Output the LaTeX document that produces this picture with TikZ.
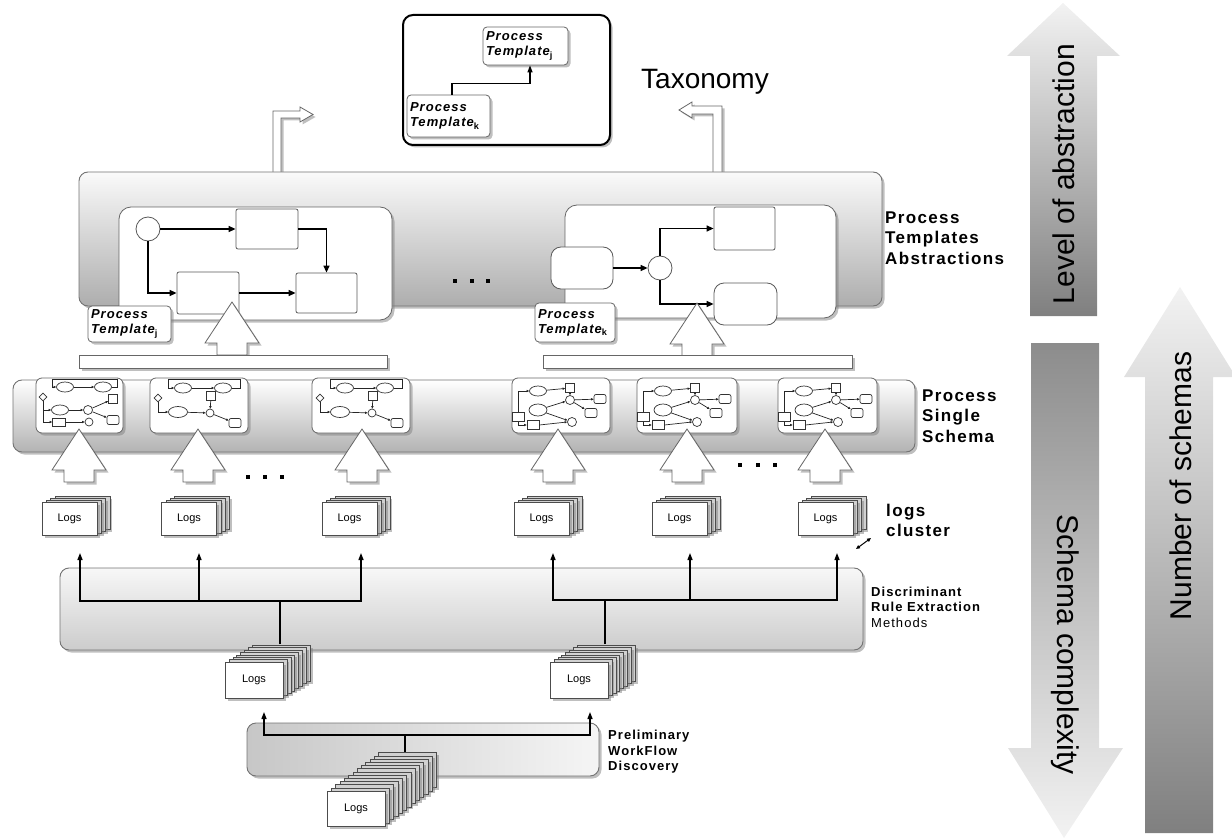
\documentclass[tikz,border=0pt]{standalone}
\usepackage{fontspec}
\setmainfont{Liberation Sans}
\newfontfamily\spacedsans[LetterSpace=8]{Liberation Sans}
\usetikzlibrary{shapes.geometric,shadows,arrows.meta}

% a stack of log sheets: name, x, y, copies behind, dx, dy, size options
\newcommand{\logstack}[7]{%
  \foreach \k in {#4,...,1}{%
    \node[logback,#7] (#1-\k) at ({#2+\k*#5},{#3-\k*#6}) {};}
  \node[logfront,#7] (#1) at (#2,#3) {Logs};}

% subscript index of a template label
\newcommand{\tplidx}[1]{\textsubscript{\upshape #1}}

% small process schema, first variant
\newcommand{\schemaA}[2]{%
  \begin{scope}[shift={#1},name prefix=#2]
    \node[mell] (e1) at (29,9) {};
    \node[mell] (e2) at (67,9) {};
    \node[mdia] (d) at (7,19) {};
    \node[mell] (e3) at (24,32) {};
    \node[mcir] (c1) at (52,32) {};
    \node[msq] (q) at (77,21) {};
    \node[mrr] (r) at (77,42) {};
    \node[mrc] (k) at (23,44) {};
    \node[mcir,minimum size=8pt] (c2) at (53,44) {};
    \draw[mlink] (e1) -- (e2);
    \draw[mlink] (e2.east) -- (81,9) -- (81,1.5) -- (16,1.5) -- (16,9) -- (e1.west);
    \draw[mlink] (d.south) |- (e3.west);
    \draw[mlink] (d.south) |- (k.west);
    \draw[mlink] (e3) -- (c1);
    \draw[mlink] (c1) -- (q);
    \draw[mlink] (c1) -- (r);
    \draw[mlink] (k) -- (c2);
  \end{scope}}

% small process schema, second variant
\newcommand{\schemaB}[2]{%
  \begin{scope}[shift={#1},name prefix=#2]
    \node[mell] (e1) at (33,10) {};
    \node[mell] (e2) at (73,10) {};
    \node[mdia] (d) at (8,20) {};
    \node[mell,minimum width=19pt,minimum height=11pt] (e3) at (28,34) {};
    \node[msq] (q) at (61,18) {};
    \node[mcir,minimum size=8pt] (c) at (60,35) {};
    \node[mrr] (r) at (85,45) {};
    \draw[mlink] (e1) -- (e2);
    \draw[mlink] (e2.east) -- (90,10) -- (90,1.5) -- (18,1.5) -- (18,10) -- (e1.west);
    \draw[mlink] (d.south) |- (e3.west);
    \draw[mlink] (e3) -- (c);
    \draw[mlink] (q) -- (c);
    \draw[mlink] (c) -- (r);
  \end{scope}}

% small process schema, third variant
\newcommand{\schemaC}[2]{%
  \begin{scope}[shift={#1},name prefix=#2]
    \node[mell] (e1) at (26,13) {};
    \node[msq] (q) at (58,10) {};
    \node[mcir] (c) at (58,22) {};
    \node[mrr] (r1) at (88,21) {};
    \node[mrr] (r2) at (79,35) {};
    \node[mell,minimum width=18pt,minimum height=12pt] (e2) at (26,32) {};
    \node[mrc,minimum width=12pt,minimum height=9pt] (k1) at (6,39) {};
    \node[mrc,minimum width=12pt,minimum height=9pt] (k2) at (21,47) {};
    \node[mcir] (cb) at (60,44) {};
    \draw[mlink] (k1.north) |- (e1.west);
    \draw[mlink] (e1) -- (q);
    \draw[mlink] (q) -- (c);
    \draw[mlink] (c) -- (r1);
    \draw[mlink] (e2) -- (c);
    \draw[mlink] (e2) -- (cb);
    \draw[mlink] (c) -- (r2);
    \draw[mlink] (k1.south) |- (k2.west);
    \draw[mlink] (k2.east) -- (cb.west);
  \end{scope}}

\begin{document}
\begin{tikzpicture}[x=1pt,y=-1pt,
  shd/.style={drop shadow={shadow xshift=2.5pt,shadow yshift=-2.5pt,opacity=0.5}},
  panel/.style={draw=black!55,line width=0.9pt,rounded corners=9pt,shd,inner sep=0pt},
  wbox/.style={draw=black!60,fill=white,line width=0.8pt,rounded corners=4pt,shd,inner sep=0pt},
  tplbox/.style={wbox,rounded corners=12pt},
  flowbox/.style={draw=black!65,fill=white,line width=0.8pt,rounded corners=2pt,inner sep=0pt},
  ptlabel/.style={wbox,align=left,inner sep=3pt,font=\spacedsans\fontsize{13}{15}\selectfont\bfseries\itshape},
  flowline/.style={draw=black,line width=1.3pt,-{Triangle[length=7pt,width=6pt]}},
  tree/.style={draw=black,line width=1.3pt},
  treearr/.style={tree,-{Triangle[length=7pt,width=5pt]}},
  hollow/.style={draw=black!60,fill=white,line width=0.8pt,shd,line join=miter},
  uparr/.pic={\path[hollow] (0,0) -- (27,41) -- (15,41) -- (15,53) -- (-15,53) -- (-15,41) -- (-27,41) -- cycle;},
  logback/.style={draw=black!70,fill=black!18,line width=0.5pt,inner sep=0pt,shd},
  logfront/.style={draw=black!70,fill=white,line width=0.6pt,inner sep=0pt,shd,font=\fontsize{11}{12}\selectfont},
  sidelab/.style={font=\fontsize{30}{34}\selectfont,inner sep=0pt},
  lab/.style={font=\spacedsans\fontsize{17}{20.5}\selectfont\bfseries,align=left,inner sep=0pt,anchor=west},
  smlab/.style={font=\spacedsans\fontsize{13}{15.5}\selectfont\bfseries,align=left,inner sep=0pt,anchor=west},
  mini/.style={draw=black!80,fill=white,line width=0.7pt,inner sep=0pt},
  mell/.style={mini,ellipse,minimum width=17pt,minimum height=10pt},
  msq/.style={mini,rectangle,minimum width=9pt,minimum height=9pt},
  mrr/.style={mini,rectangle,rounded corners=2pt,minimum width=12pt,minimum height=9pt},
  mrc/.style={mini,rectangle,minimum width=13pt,minimum height=8pt},
  mcir/.style={mini,circle,minimum size=9pt},
  mdia/.style={mini,diamond,minimum size=8pt},
  mlink/.style={draw=black!85,line width=0.7pt,-{Triangle[length=2.5pt,width=2.2pt]}},
]
\useasboundingbox (0,0) rectangle (1232,840);

% ---------- hollow elbow arrows towards the taxonomy ----------
\path[hollow] (273,176) -- (273,111) -- (300,111) -- (300,107) -- (313,114.5) -- (300,122) -- (300,118) -- (281,118) -- (281,176) -- cycle;
\path[hollow] (722,176) -- (722,106) -- (692,106) -- (692,102) -- (679,110) -- (692,118) -- (692,114) -- (713,114) -- (713,176) -- cycle;

% ---------- process templates abstractions ----------
\node[panel,top color=black!2,bottom color=black!32,minimum width=803pt,minimum height=134pt] (abs) at (480.5,239) {};
\node[tplbox,minimum width=273pt,minimum height=113pt] (tplL) at (255.5,263.5) {};
\node[tplbox,minimum width=271pt,minimum height=113pt] (tplR) at (700.5,261.5) {};

% left template
\node[flowbox,circle,minimum size=24pt] (lc) at (148,229) {};
\node[flowbox,minimum width=62pt,minimum height=40pt] (lb1) at (267,229) {};
\node[flowbox,minimum width=62pt,minimum height=42pt] (lb2) at (208,293) {};
\node[flowbox,minimum width=61pt,minimum height=40pt] (lb3) at (326.5,293) {};
\draw[flowline] (lc.east) -- (lb1.west);
\draw[flowline] (lb1.east) -| (lb3.north);
\draw[flowline] (lc.south) |- (lb2.west);
\draw[flowline] (lb2.east) -- (lb3.west);

% right template
\node[flowbox,rounded corners=10pt,minimum width=62pt,minimum height=42pt] (rr1) at (582,268) {};
\node[flowbox,circle,minimum size=24pt] (rc) at (660,268) {};
\node[flowbox,minimum width=61pt,minimum height=43pt] (rbt) at (744.5,228.5) {};
\node[flowbox,rounded corners=10pt,minimum width=63pt,minimum height=42pt] (rbb) at (745.5,304) {};
\draw[flowline] (rr1.east) -- (rc.west);
\draw[flowline] (rc.north) |- (rbt.west);
\draw[flowline] (rc.south) |- (rbb.west);

\fill (453,279) rectangle ++(4,4);
\fill (470,279) rectangle ++(4,4);
\fill (486,279) rectangle ++(4,4);

\node[ptlabel,text width=77pt,minimum height=36pt] (ptj) at (129.5,324) {Process\\Template\tplidx{j}};
\node[ptlabel,text width=74pt,minimum height=39pt] (ptk) at (575,322.5) {Process\\Template\tplidx{k}};

\pic at (232,302) {uparr};
\pic at (697,303) {uparr};
\node[wbox,rounded corners=0pt,minimum width=308pt,minimum height=13pt] (barL) at (233,361.5) {};
\node[wbox,rounded corners=0pt,minimum width=309pt,minimum height=13pt] (barR) at (697.5,361.5) {};

\node[lab] (lbl-abs) at (885,238) {Process\\Templates\\Abstractions};

% ---------- process single schema ----------
\node[panel,top color=white,bottom color=black!30,minimum width=902pt,minimum height=72pt] (single) at (464,416) {};
\node[wbox,rounded corners=6pt,minimum width=87pt,minimum height=55pt] (s1) at (79.5,405.5) {};
\node[wbox,rounded corners=6pt,minimum width=98pt,minimum height=55pt] (s2) at (199,405.5) {};
\node[wbox,rounded corners=6pt,minimum width=98pt,minimum height=55pt] (s3) at (361,405.5) {};
\node[wbox,rounded corners=6pt,minimum width=98pt,minimum height=55pt] (s4) at (561,405.5) {};
\node[wbox,rounded corners=6pt,minimum width=100pt,minimum height=55pt] (s5) at (687,405.5) {};
\node[wbox,rounded corners=6pt,minimum width=99pt,minimum height=55pt] (s6) at (827.5,405.5) {};
\schemaA{(36,378)}{sa-}
\schemaB{(150,378)}{sb-}
\schemaB{(312,378)}{sc-}
\schemaC{(512,378)}{sd-}
\schemaC{(637,378)}{se-}
\schemaC{(778,378)}{sf-}

\node[lab] (lbl-single) at (922,416) {Process\\Single\\Schema};

\foreach \ax in {79,198,362,558,687,825}{\pic at (\ax,429) {uparr};}

\fill (246,475) rectangle ++(4,4);
\fill (263,475) rectangle ++(4,4);
\fill (280,475) rectangle ++(4,4);
\fill (738,463) rectangle ++(4,4);
\fill (756,463) rectangle ++(4,4);
\fill (773,463) rectangle ++(4,4);

% ---------- logs clusters ----------
\logstack{ls1}{69.5}{518.5}{3}{4.3}{2}{minimum width=55pt,minimum height=33pt}
\logstack{ls2}{189}{518.5}{3}{4.3}{2}{minimum width=55pt,minimum height=33pt}
\logstack{ls3}{349.5}{518.5}{3}{4.3}{2}{minimum width=55pt,minimum height=33pt}
\logstack{ls4}{541.5}{518.5}{3}{4.3}{2}{minimum width=55pt,minimum height=33pt}
\logstack{ls5}{679.5}{518.5}{3}{4.3}{2}{minimum width=55pt,minimum height=33pt}
\logstack{ls6}{825.5}{518.5}{3}{4.3}{2}{minimum width=55pt,minimum height=33pt}

\node[lab] (lbl-cluster) at (886,520.5) {logs\\cluster};
\coordinate (lcA) at (856,549);
\coordinate (lcB) at (871,538);
\draw[line width=1pt,{Triangle[length=4pt,width=3.5pt]}-{Triangle[length=4pt,width=3.5pt]}] (lcA) -- (lcB);

% ---------- discriminant rule extraction ----------
\node[panel,top color=black!3,bottom color=black!20,minimum width=803pt,minimum height=82pt] (disc) at (461.5,609) {};
\node[smlab] (lbl-disc) at (871,607) {Discriminant\\Rule Extraction\\{\mdseries Methods}};

\logstack{mL}{254}{680}{7}{3.9}{2.4}{minimum width=58pt,minimum height=36pt}
\logstack{mR}{579}{680}{7}{3.9}{2.4}{minimum width=58pt,minimum height=36pt}

\coordinate (sL) at (280,644);
\coordinate (jL) at (280,601);
\coordinate (tL1) at (80,553);
\coordinate (tL2) at (199,553);
\coordinate (tL3) at (361,553);
\draw[tree] (sL) -- (jL);
\draw[treearr] (jL) -| (tL1);
\draw[treearr] (jL) -| (tL2);
\draw[treearr] (jL) -| (tL3);

\coordinate (sR) at (605,644);
\coordinate (jR) at (605,600);
\coordinate (tR1) at (553,553);
\coordinate (tR2) at (690,553);
\coordinate (tR3) at (837,553);
\draw[tree] (sR) -- (jR);
\draw[treearr] (jR) -| (tR1);
\draw[treearr] (jR) -| (tR2);
\draw[treearr] (jR) -| (tR3);

% ---------- preliminary workflow discovery ----------
\node[panel,left color=black!22,right color=black!4,minimum width=352pt,minimum height=53pt] (prel) at (423,749.5) {};
\node[smlab] (lbl-prel) at (608,752) {Preliminary\\WorkFlow\\Discovery};
\coordinate (sP) at (405,752);
\coordinate (jP) at (405,735);
\coordinate (tP1) at (264,712);
\coordinate (tP2) at (590,712);
\draw[tree] (sP) -- (jP);
\draw[treearr] (jP) -| (tP1);
\draw[treearr] (jP) -| (tP2);

\logstack{bL}{356}{808.5}{12}{4.3}{3.2}{minimum width=58pt,minimum height=35pt}

% ---------- taxonomy ----------
\node[draw=black,line width=2pt,fill=white,rounded corners=10pt,shd,minimum width=207pt,minimum height=130pt] (tax) at (506.5,80) {};
\node[ptlabel,text width=79pt,minimum height=38pt] (tptj) at (525.5,46) {Process\\Template\tplidx{j}};
\node[ptlabel,text width=77pt,minimum height=42pt] (tptk) at (448.5,116) {Process\\Template\tplidx{k}};
\draw[line width=1.3pt,-{Triangle[length=7pt,width=5pt]}] ([xshift=3.5pt]tptk.north) -- ++(0,-11) -| ([xshift=4.5pt]tptj.south);
\node[font=\fontsize{28}{32}\selectfont,inner sep=0pt] (taxlab) at (705,82) {Taxonomy};

% ---------- side scales ----------
\shade[top color=black!5,bottom color=black!50] (1030,316) -- (1030,56) -- (1007,56) -- (1063,3) -- (1120,56) -- (1097,56) -- (1097,316) -- cycle;
\shade[top color=black!45,bottom color=black!5] (1031,343) -- (1031,748) -- (1008,748) -- (1064,838) -- (1123,748) -- (1099,748) -- (1099,343) -- cycle;
\shade[top color=black!5,bottom color=black!50] (1145,833) -- (1145,377) -- (1124,377) -- (1180,287) -- (1236,377) -- (1213,377) -- (1213,833) -- cycle;
\node[sidelab,rotate=90] (abslab) at (1064,174) {Level of abstraction};
\node[sidelab,rotate=-90] (cmplab) at (1065,645) {Schema complexity};
\node[sidelab,rotate=90] (numlab) at (1181,486) {Number of schemas};
\end{tikzpicture}
\end{document}
